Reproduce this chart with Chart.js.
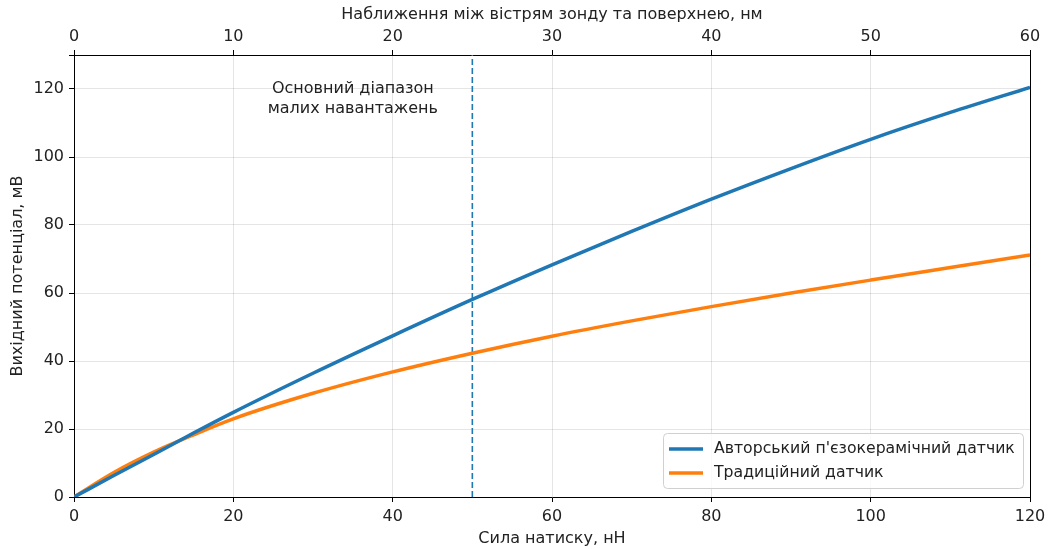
<!DOCTYPE html>
<html lang="uk">
<head>
    <meta charset="UTF-8">
    <title>Вихідний потенціал датчиків</title>
    <style>
        html, body {
            margin: 0;
            padding: 0;
            background: #fff;
        }
        #wrap {
            width: 1049px;
            height: 549px;
        }
    </style>
</head>
<body>
    <div id="wrap">
        <canvas id="myChart" width="1049" height="549"></canvas>
    </div>
    <script src="https://cdn.jsdelivr.net/npm/chart.js"></script>
    <script>
        // values
        var force = [0, 5, 10, 15, 20, 30, 40, 50, 60, 70, 80, 90, 100, 110, 120];
        var authorSensor = [0, 6.3, 12.5, 18.8, 24.9, 36.4, 47.4, 58.1, 68.3, 78.1, 87.6, 96.6, 105.2, 113.1, 120.5];
        var classicSensor = [0, 7.2, 13.2, 18.3, 23, 30.5, 36.8, 42.3, 47.3, 51.8, 56.0, 60.0, 63.8, 67.5, 71.2];
        var seriesNames = ["Авторський п'єзокерамічний датчик", 'Традиційний датчик'];
        var limitForce = 50;
        var yRange = [0, 130];
        var annotation = ['Основний діапазон', 'малих навантажень'];
        var annotationAt = [35, 117];

        var FONT = '"DejaVu Sans", sans-serif';
        var BLUE = '#1f77b4';
        var ORANGE = '#ff7f0e';

        function toPoints(xs, ys) {
            return xs.map(function(x, i) { return { x: x, y: ys[i] }; });
        }

        // right spine, annotation text and legend box
        var extras = {
            id: 'extras',
            afterDraw: function(chart) {
                var ctx = chart.ctx;
                var area = chart.chartArea;
                var xs = chart.scales.x;
                var ys = chart.scales.y;

                ctx.save();
                ctx.strokeStyle = '#000';
                ctx.lineWidth = 1;
                ctx.beginPath();
                ctx.moveTo(area.right + 0.5, area.top);
                ctx.lineTo(area.right + 0.5, area.bottom);
                ctx.stroke();

                // annotation
                ctx.font = '16px ' + FONT;
                ctx.fillStyle = '#222';
                ctx.textAlign = 'center';
                ctx.textBaseline = 'middle';
                var ax = xs.getPixelForValue(annotationAt[0]);
                var ay = ys.getPixelForValue(annotationAt[1]);
                ctx.fillText(annotation[0], ax, ay - 10);
                ctx.fillText(annotation[1], ax, ay + 10);

                // legend
                var bx = 663, by = 433, bw = 360, bh = 55;
                ctx.beginPath();
                ctx.roundRect(bx + 0.5, by + 0.5, bw, bh, 4);
                ctx.fillStyle = 'rgba(255,255,255,0.8)';
                ctx.fill();
                ctx.strokeStyle = '#d0d0d0';
                ctx.stroke();
                var colors = [BLUE, ORANGE];
                ctx.textAlign = 'left';
                ctx.font = '15.7px ' + FONT;
                for (var i = 0; i < seriesNames.length; i++) {
                    var ly = by + 16 + i * 24;
                    ctx.strokeStyle = colors[i];
                    ctx.lineWidth = 3.5;
                    ctx.beginPath();
                    ctx.moveTo(bx + 6, ly);
                    ctx.lineTo(bx + 40, ly);
                    ctx.stroke();
                    ctx.fillStyle = '#222';
                    ctx.fillText(seriesNames[i], bx + 51, ly);
                }
                ctx.restore();
            }
        };

        var tickFont = { family: FONT, size: 16 };
        var gridStyle = {
            color: 'rgba(0,0,0,0.1)',
            tickColor: '#000',
            tickLength: 5,
            lineWidth: 1
        };

        // fixed box size, no extra room for the end labels
        function fixHeight(h) {
            return function(scale) {
                scale.height = h;
                scale.paddingLeft = 0;
                scale.paddingRight = 0;
            };
        }

        var config = {
            type: 'line',
            data: {
                datasets: [{
                    label: seriesNames[0],
                    data: toPoints(force, authorSensor),
                    borderColor: BLUE,
                    borderWidth: 3.5,
                    pointRadius: 0,
                    cubicInterpolationMode: 'monotone',
                    fill: false
                }, {
                    label: seriesNames[1],
                    data: toPoints(force, classicSensor),
                    borderColor: ORANGE,
                    borderWidth: 3.5,
                    pointRadius: 0,
                    cubicInterpolationMode: 'monotone',
                    fill: false
                }, {
                    label: 'limit',
                    data: [{ x: limitForce, y: yRange[0] }, { x: limitForce, y: yRange[1] }],
                    borderColor: BLUE,
                    borderWidth: 1.6,
                    borderDash: [6, 3],
                    pointRadius: 0,
                    fill: false
                }]
            },
            options: {
                responsive: false,
                animation: false,
                layout: { padding: { top: 0, right: 19, bottom: 0, left: 0 } },
                plugins: {
                    legend: { display: false },
                    tooltip: { enabled: false }
                },
                scales: {
                    x: {
                        type: 'linear',
                        position: 'bottom',
                        min: 0,
                        max: 120,
                        ticks: { stepSize: 20, color: '#222', font: tickFont, padding: 5, maxRotation: 0 },
                        grid: gridStyle,
                        border: { color: '#000', width: 1 },
                        title: { display: true, text: 'Сила натиску, нН', color: '#222', font: tickFont, padding: { top: 0, bottom: 1 } },
                        afterFit: fixHeight(52)
                    },
                    x2: {
                        type: 'linear',
                        position: 'top',
                        min: 0,
                        max: 60,
                        ticks: { stepSize: 10, color: '#222', font: tickFont, padding: 4, maxRotation: 0 },
                        grid: { drawOnChartArea: false, tickColor: '#000', tickLength: 5 },
                        border: { color: '#000', width: 1 },
                        title: { display: true, text: 'Наближення між вістрям зонду та поверхнею, нм', color: '#222', font: tickFont, padding: { top: 5, bottom: 0 } },
                        afterFit: fixHeight(55)
                    },
                    y: {
                        type: 'linear',
                        min: yRange[0],
                        max: yRange[1],
                        ticks: {
                            stepSize: 20,
                            color: '#222',
                            font: tickFont,
                            padding: 5,
                            callback: function(v) { return v % 20 === 0 ? v : ''; }
                        },
                        grid: gridStyle,
                        border: { color: '#000', width: 1 },
                        title: { display: true, text: 'Вихідний потенціал, мВ', color: '#222', font: tickFont, padding: { top: 8, bottom: 4 } },
                        afterFit: function(scale) { scale.width = 74; }
                    }
                }
            },
            plugins: [extras]
        };

        var ctx = document.getElementById('myChart').getContext('2d');
        window.myChart = new Chart(ctx, config);
    </script>
</body>
</html>
